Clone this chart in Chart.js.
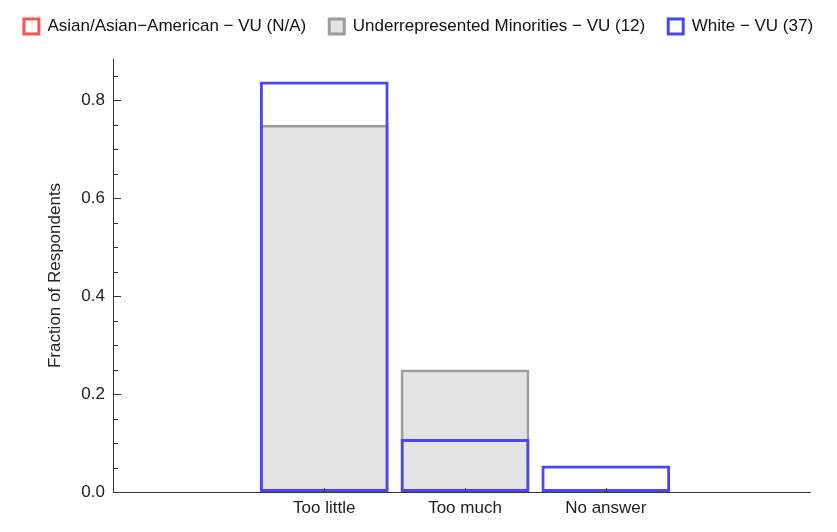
<!DOCTYPE html>
<html>
<head>
<meta charset="utf-8">
<script src="https://cdn.jsdelivr.net/npm/chart.js@4.4.1/dist/chart.umd.min.js"></script>
<style>
  html, body { margin: 0; padding: 0; background: #fff; }
  #wrap { width: 837px; height: 532px; }
</style>
</head>
<body>
<div id="wrap"><canvas id="chart"></canvas></div>
<script>
// data
const categories = ['Too little', 'Too much', 'No answer'];
const catPositions = [1, 2, 3];
const asianValues = [0, 0, 0];
const urmValues = [0.75, 0.25, 0];
const whiteValues = [0.838, 0.108, 0.054];
const yTicks = [0, 0.2, 0.4, 0.6, 0.8];

const FONT = 'Liberation Sans, Arial, sans-serif';

function toPoints(values) {
    return values.map((v, i) => ({ x: catPositions[i], y: v }));
}

// inside tick marks like the original (major + minor on y, short marks on x)
const innerTicks = {
    id: 'innerTicks',
    afterDraw(chart) {
        const ctx = chart.ctx;
        const y = chart.scales.y;
        const x = chart.scales.x;
        const left = chart.chartArea.left;
        const bottom = chart.chartArea.bottom;
        ctx.save();
        ctx.strokeStyle = '#333';
        ctx.lineWidth = 1;
        for (let i = 0; i <= 17; i++) {
            const v = i * 0.05;
            const py = Math.round(y.getPixelForValue(v)) + 0.5;
            const major = i % 4 === 0;
            ctx.beginPath();
            ctx.moveTo(left, py);
            ctx.lineTo(left + (major ? 8 : 5), py);
            ctx.stroke();
        }
        catPositions.forEach(c => {
            const px = Math.round(x.getPixelForValue(c)) + 0.5;
            ctx.beginPath();
            ctx.moveTo(px, bottom);
            ctx.lineTo(px, bottom - 4);
            ctx.stroke();
        });
        ctx.restore();
    }
};

// blank spacer axes (margins only, nothing drawn)
function spacer(position, size) {
    const horizontal = position === 'top' || position === 'bottom';
    return {
        position: position,
        display: true,
        grid: { display: false, drawTicks: false },
        border: { display: false },
        ticks: { display: false },
        afterFit: s => { if (horizontal) s.height = size; else s.width = size; }
    };
}

const ctx = document.getElementById('chart').getContext('2d');
new Chart(ctx, {
    type: 'bar',
    data: {
        datasets: [
            {
                label: 'Asian/Asian\u2212American \u2212 VU (N/A)',
                data: toPoints(asianValues),
                backgroundColor: 'rgba(255,255,255,0)',
                borderColor: '#ff5252',
                borderWidth: 3,
                borderSkipped: false,
                order: 2
            },
            {
                label: 'Underrepresented Minorities \u2212 VU (12)',
                data: toPoints(urmValues),
                backgroundColor: '#e3e3e3',
                borderColor: '#9c9c9c',
                borderWidth: 3,
                borderSkipped: false,
                order: 3
            },
            {
                label: 'White \u2212 VU (37)',
                data: toPoints(whiteValues),
                backgroundColor: 'rgba(255,255,255,0)',
                borderColor: '#4848f2',
                borderWidth: 3,
                borderSkipped: false,
                order: 1
            }
        ]
    },
    options: {
        responsive: true,
        maintainAspectRatio: false,
        animation: false,
        grouped: false,
        barPercentage: 0.915,
        categoryPercentage: 1,
        layout: { padding: { left: 0, right: 0, top: -5, bottom: 0 } },
        plugins: {
            tooltip: { enabled: false },
            legend: {
                display: true,
                position: 'top',
                labels: {
                    color: '#111',
                    boxWidth: 15,
                    boxHeight: 15,
                    padding: 23,
                    font: { family: FONT, size: 17 },
                    sort: (a, b) => a.datasetIndex - b.datasetIndex
                }
            }
        },
        scales: {
            x: {
                type: 'linear',
                offset: false,
                min: -0.5,
                max: 4.45,
                grid: { display: false, drawTicks: false },
                border: { display: true, color: '#333', width: 1 },
                afterBuildTicks: s => { s.ticks = catPositions.map(v => ({ value: v })); },
                afterFit: s => { s.height = 40; },
                ticks: {
                    color: '#222',
                    padding: 6,
                    maxRotation: 0,
                    autoSkip: false,
                    font: { family: FONT, size: 17 },
                    callback: v => categories[catPositions.indexOf(v)] || ''
                }
            },
            y: {
                min: 0,
                max: 0.884,
                grid: { display: false, drawTicks: false },
                border: { display: true, color: '#333', width: 1 },
                afterBuildTicks: s => { s.ticks = yTicks.map(v => ({ value: v })); },
                afterFit: s => { s.width = 113; },
                ticks: {
                    color: '#222',
                    padding: 8,
                    font: { family: FONT, size: 17 },
                    callback: v => Number(v).toFixed(1)
                },
                title: {
                    display: true,
                    text: 'Fraction of Respondents',
                    color: '#222',
                    padding: { top: 45, bottom: 0 },
                    font: { family: FONT, size: 17 }
                }
            },
            xTop: spacer('top', 14),
            yRight: spacer('right', 27)
        }
    },
    plugins: [innerTicks]
});
</script>
</body>
</html>
